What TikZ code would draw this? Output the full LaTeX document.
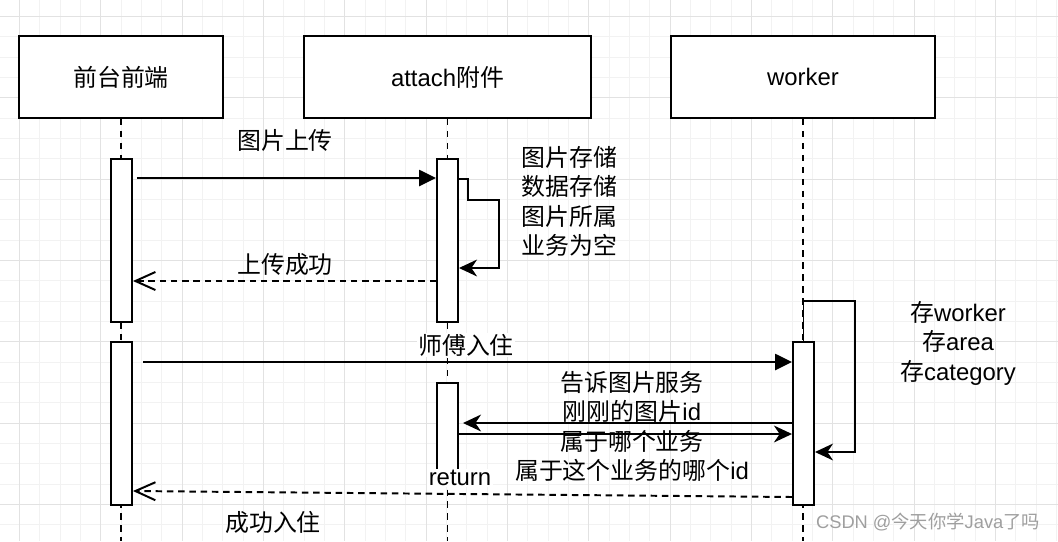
\documentclass[tikz,border=0pt]{standalone}
\usepackage{fontspec}
\setmainfont{Liberation Sans}
\newfontfamily\cjk{Noto Sans CJK SC}
\usetikzlibrary{arrows.meta}
\definecolor{gridmin}{HTML}{F2F2F2}
\definecolor{gridmaj}{HTML}{E2E2E2}

\begin{document}
\begin{tikzpicture}[x=0.025cm, y=-0.025cm, line width=1.4pt,
  every node/.style={font=\fontsize{17}{21}\selectfont},
  actor/.style={draw, fill=white, minimum height=2.05cm, inner sep=0pt},
  activ/.style={draw, fill=white, minimum width=0.525cm, inner sep=0pt},
  lifeline/.style={dash pattern=on 4.5pt off 4pt},
  msg/.style={-{Triangle[length=0.42cm,width=0.4cm]}},
  call/.style={-{Stealth[length=0.45cm,width=0.42cm,inset=0.14cm]}},
  reply/.style={dash pattern=on 4.5pt off 3.5pt, -{Straight Barb[length=0.5cm,width=0.45cm]}},
  lbl/.style={fill=white, inner sep=1pt}]

  % Fond et grille
  \fill[white] (0,0) rectangle (1058,541);
  \useasboundingbox (0,0) rectangle (1058,541);
  \foreach \k in {0,...,51}
    \draw[gridmin, line width=0.6pt] ({19.5+20.33*\k},0) -- ({19.5+20.33*\k},541);
  \foreach \k in {0,...,25}
    \draw[gridmin, line width=0.6pt] (0,{16.5+20.33*\k}) -- (1058,{16.5+20.33*\k});
  \foreach \k in {0,4,...,48}
    \draw[gridmaj, line width=0.6pt] ({19.5+20.33*\k},0) -- ({19.5+20.33*\k},541);
  \foreach \k in {0,4,...,24}
    \draw[gridmaj, line width=0.6pt] (0,{16.5+20.33*\k}) -- (1058,{16.5+20.33*\k});

  % Acteurs
  \node[actor, minimum width=5.1cm] (front) at (121,77) {{\cjk 前台前端}};
  \node[actor, minimum width=7.175cm] (attach) at (447.5,77) {attach{\cjk 附件}};
  \node[actor, minimum width=6.6cm] (worker) at (803,77) {worker};

  % Lignes de vie
  \draw[lifeline] (front.south) -- (front.south |- 0,541);
  \draw[lifeline] (attach.south) -- (attach.south |- 0,541);
  \draw[lifeline] (worker.south) -- (worker.south |- 0,541);

  % Activations
  \node[activ, minimum height=4.075cm] (fact1) at (121.5,240.5) {};
  \node[activ, minimum height=4.075cm] (fact2) at (121.5,423.5) {};
  \node[activ, minimum height=4.075cm] (aact1) at (447.5,240.5) {};
  \node[activ, minimum height=2.175cm] (aact2) at (447.5,426.5) {};
  \node[activ, minimum height=4.075cm] (wact) at (803.5,423.5) {};

  % Envoi de l'image
  \draw[msg, shorten <=0.1cm] (fact1.east |- 0,178) -- (aact1.west |- 0,178);
  \node (upload) at (285,140) {{\cjk 图片上传}};

  % Stockage (boucle)
  \draw[call] (aact1.east |- 0,179) -| (468,200) -| (499,268) -- (aact1.east |- 0,268);
  \node[anchor=west, align=left] (store) at (516,201.5)
    {{\cjk 图片存储}\\{\cjk 数据存储}\\{\cjk 图片所属}\\{\cjk 业务为空}};

  % Retour
  \draw[reply] (aact1.west |- 0,281) -- (fact1.east |- 0,281);
  \node (uploaded) at (285,265) {{\cjk 上传成功}};

  % Entree du maitre
  \node[lbl] (checkin) at (466,345) {{\cjk 师傅入住}};
  \draw[msg, shorten <=0.25cm] (fact2.east |- 0,362) -- (wact.west |- 0,362);

  % Echange avec le service d'images
  \node[align=center] (tell) at (632,426.5)
    {{\cjk 告诉图片服务}\\{\cjk 刚刚的图片}id\\{\cjk 属于哪个业务}\\{\cjk 属于这个业务的哪个}id};
  \node[lbl] (ret) at (460,478) {return};
  \draw[call, shorten >=0.1cm] (wact.west |- 0,423) -- (aact2.east |- 0,423);
  \draw[call] (aact2.east |- 0,434) -- (wact.west |- 0,434);

  % Boucle du worker
  \draw[call] (wact.north) |- (855,301) |- (wact.east |- 0,452);
  \node[align=center] (save) at (958,343)
    {{\cjk 存}worker\\{\cjk 存}area\\{\cjk 存}category};

  % Retour final
  \draw[reply] (wact.west |- 0,497) -- (fact2.east |- 0,491);
  \node (done) at (273,522) {{\cjk 成功入住}};

  % Filigrane
  \node[text=gray!75, font=\fontsize{13}{15}\selectfont] (mark) at (928,522)
    {CSDN @{\cjk 今天你学}Java{\cjk 了吗}};
\end{tikzpicture}
\end{document}
